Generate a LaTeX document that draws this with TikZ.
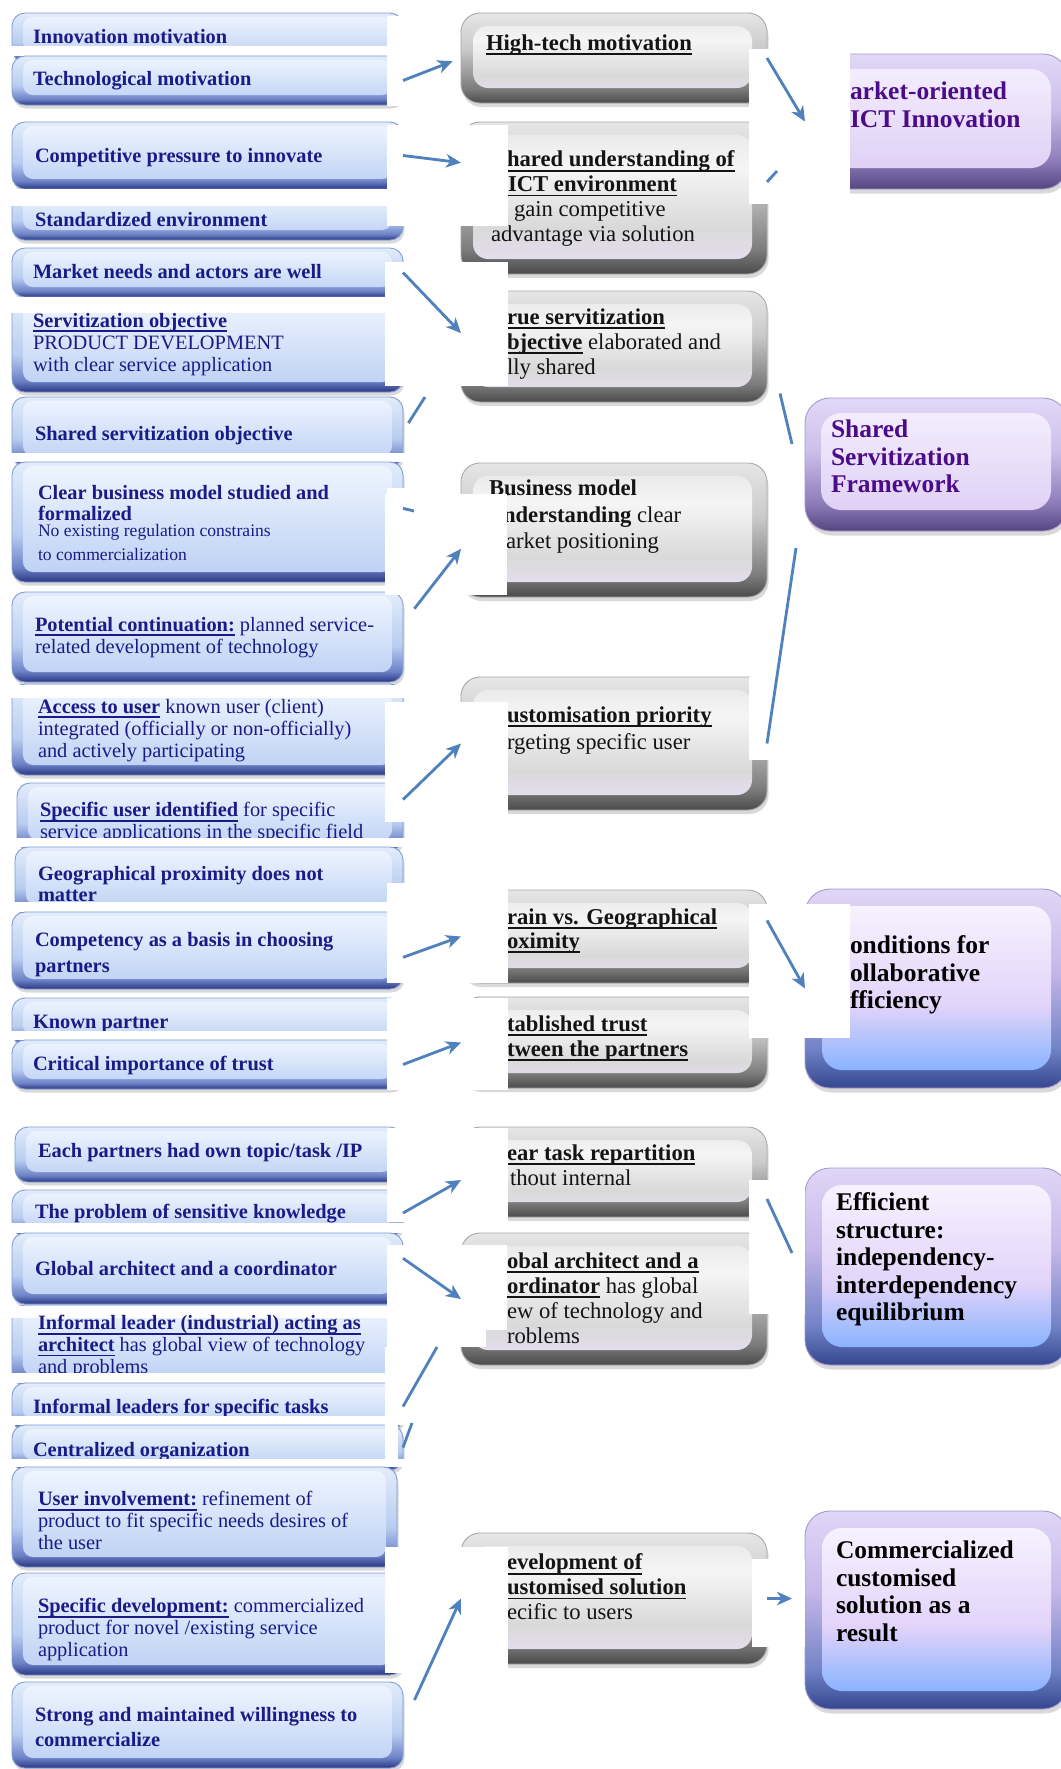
\documentclass[tikz,border=0pt]{standalone}
\usepackage{fontspec}
\setmainfont{Liberation Serif}
\usetikzlibrary{arrows.meta, fit, shadows}

\definecolor{lboxline}{HTML}{7F9BD3}
\definecolor{loutA}{HTML}{2A3683}
\definecolor{loutB}{HTML}{6C82C6}
\definecolor{loutC}{HTML}{B9CDF0}
\definecolor{loutD}{HTML}{E2ECFB}
\definecolor{linA}{HTML}{BACFF3}
\definecolor{linB}{HTML}{F0F6FF}
\definecolor{gboxline}{HTML}{A8A8A8}
\definecolor{goutA}{HTML}{4B4B4B}
\definecolor{goutB}{HTML}{7C7C7C}
\definecolor{goutC}{HTML}{CACACA}
\definecolor{goutD}{HTML}{E6E6E6}
\definecolor{ginA}{HTML}{D4C9E6}
\definecolor{ginB}{HTML}{E3DDEC}
\definecolor{ginC}{HTML}{D9D9D9}
\definecolor{ginD}{HTML}{F5F5F5}
\definecolor{ginE}{HTML}{E6E6E6}
\definecolor{pboxline}{HTML}{A896CF}
\definecolor{poutA}{HTML}{55457F}
\definecolor{poutB}{HTML}{8C7AB8}
\definecolor{poutC}{HTML}{CDBFEA}
\definecolor{poutD}{HTML}{E2D8F6}
\definecolor{pinA}{HTML}{DCCBF3}
\definecolor{pinB}{HTML}{F6F1FF}
\definecolor{qoutA}{HTML}{34478F}
\definecolor{qoutB}{HTML}{7283C6}
\definecolor{qoutC}{HTML}{C7B8EA}
\definecolor{qoutD}{HTML}{E0D6F6}
\definecolor{qinA}{HTML}{86B2FF}
\definecolor{qinB}{HTML}{E3D4FA}
\definecolor{qinC}{HTML}{FAF7FF}
\definecolor{navytext}{HTML}{1B1B87}
\definecolor{purpletext}{HTML}{4B0C8A}
\definecolor{mtextcol}{HTML}{141414}
\definecolor{arrowblue}{HTML}{4F81BD}

\pgfdeclareverticalshading{lout}{100bp}{color(0bp)=(loutA); color(25bp)=(loutA); color(31bp)=(loutB); color(45bp)=(loutC); color(75bp)=(loutD); color(100bp)=(loutD)}
\pgfdeclareverticalshading{lin}{100bp}{color(0bp)=(linA); color(25bp)=(linA); color(75bp)=(linB); color(100bp)=(linB)}
\pgfdeclareverticalshading{gout}{100bp}{color(0bp)=(goutA); color(25bp)=(goutA); color(33bp)=(goutB); color(55bp)=(goutC); color(75bp)=(goutD); color(100bp)=(goutD)}
\pgfdeclareverticalshading{gin}{100bp}{color(0bp)=(ginA); color(25bp)=(ginA); color(31bp)=(ginB); color(40bp)=(ginC); color(60bp)=(ginD); color(75bp)=(ginE); color(100bp)=(ginE)}
\pgfdeclareverticalshading{pout}{100bp}{color(0bp)=(poutA); color(25bp)=(poutA); color(35bp)=(poutB); color(55bp)=(poutC); color(75bp)=(poutD); color(100bp)=(poutD)}
\pgfdeclareverticalshading{pin}{100bp}{color(0bp)=(pinA); color(25bp)=(pinA); color(75bp)=(pinB); color(100bp)=(pinB)}
\pgfdeclareverticalshading{qout}{100bp}{color(0bp)=(qoutA); color(25bp)=(qoutA); color(35bp)=(qoutB); color(55bp)=(qoutC); color(75bp)=(qoutD); color(100bp)=(qoutD)}
\pgfdeclareverticalshading{qin}{100bp}{color(0bp)=(qinA); color(25bp)=(qinA); color(29bp)=(qinA); color(46bp)=(qinB); color(75bp)=(qinC); color(100bp)=(qinC)}

\newcommand{\undl}[1]{\sbox0{#1}\rlap{\usebox0}\rule[-2.6pt]{\wd0}{1.1pt}}

\tikzset{
  lbox/.style={draw=lboxline, line width=0.5pt, rounded corners=0.26cm, inner sep=0pt, outer sep=0pt,
    shade, shading=lout, drop shadow={shadow xshift=0.03cm, shadow yshift=-0.07cm, opacity=0.3},
    path picture={\shade[shading=lin, rounded corners=0.2cm]
      ([xshift=0.22cm,yshift=-0.08cm]path picture bounding box.north west) rectangle
      ([xshift=-0.22cm,yshift=0.2cm]path picture bounding box.south east);}},
  gbox/.style={draw=gboxline, line width=0.5pt, rounded corners=0.38cm, inner sep=0pt, outer sep=0pt,
    shade, shading=gout, drop shadow={shadow xshift=0.03cm, shadow yshift=-0.08cm, opacity=0.3},
    path picture={\shade[shading=gin, rounded corners=0.3cm]
      ([xshift=0.24cm,yshift=-0.26cm]path picture bounding box.north west) rectangle
      ([xshift=-0.3cm,yshift=0.3cm]path picture bounding box.south east);}},
  pbox/.style={draw=pboxline, line width=0.5pt, rounded corners=0.5cm, inner sep=0pt, outer sep=0pt,
    shade, shading=pout, drop shadow={shadow xshift=0.03cm, shadow yshift=-0.09cm, opacity=0.3},
    path picture={\shade[shading=pin, rounded corners=0.4cm]
      ([xshift=0.32cm,yshift=-0.3cm]path picture bounding box.north west) rectangle
      ([xshift=-0.34cm,yshift=0.42cm]path picture bounding box.south east);}},
  qbox/.style={draw=pboxline, line width=0.5pt, rounded corners=0.5cm, inner sep=0pt, outer sep=0pt,
    shade, shading=qout, drop shadow={shadow xshift=0.03cm, shadow yshift=-0.09cm, opacity=0.3},
    path picture={\shade[shading=qin, rounded corners=0.4cm]
      ([xshift=0.34cm,yshift=-0.34cm]path picture bounding box.north west) rectangle
      ([xshift=-0.34cm,yshift=0.36cm]path picture bounding box.south east);}},
  ltext/.style={anchor=north west, inner sep=0pt, outer sep=0pt, align=left, text=navytext,
    font=\fontsize{11.6}{12.5}\selectfont\bfseries, execute at begin node={\rule{0pt}{8.75pt}}},
  lsmall/.style={ltext, font=\fontsize{10}{13.66}\selectfont, execute at begin node={\rule{0pt}{9.56pt}}},
  mtext/.style={anchor=north west, inner sep=0pt, outer sep=0pt, align=left, text=mtextcol,
    font=\fontsize{12.9}{14.2}\selectfont\bfseries, execute at begin node={\rule{0pt}{9.94pt}}},
  rtext/.style={anchor=north west, inner sep=0pt, outer sep=0pt, align=left, text=black,
    font=\fontsize{14.5}{15.65}\selectfont\bfseries, execute at begin node={\rule{0pt}{10.96pt}}},
  ptext/.style={rtext, text=purpletext},
  patch/.style={fill=white, draw=none},
  conn/.style={draw=arrowblue, line width=1.6pt, -{Stealth[length=0.3cm, width=0.27cm, inset=0.09cm]}},
  link/.style={draw=arrowblue, line width=1.6pt},
}

\begin{document}
\begin{tikzpicture}[x=0.02cm, y=-0.02cm]
    \useasboundingbox (0,0) rectangle (1061,1769);

    \node[lbox, fit={(12,13) (403,62)}] (innov) {};
    \node[ltext] (innovT) at (33,28.6) {Innovation motivation};
    \fill[patch] (0,46) rectangle (405,56);
    \node[lbox, fit={(12,56) (403,105)}] (techmot) {};
    \node[ltext] (techmotT) at (33,70.6) {Technological motivation};
    \node[lbox, fit={(12,122) (403,189)}] (comppr) {};
    \node[ltext] (compprT) at (35,147.6) {Competitive pressure to innovate};
    \node[lbox, fit={(12,192) (403,240)}] (stdenv) {};
    \fill[patch] (0,189) rectangle (405,206);
    \node[ltext] (stdenvT) at (35,211.6) {Standardized environment};
    \node[lbox, fit={(12,248) (403,297)}] (mktneed) {};
    \node[ltext] (mktneedT) at (33,263.6) {Market needs and actors are well};
    \node[lbox, fit={(12,299) (403,392)}] (servobj) {};
    \fill[patch] (0,297) rectangle (405,313);
    \node[ltext] (servobjT) at (33,313.6) {\undl{Servitization objective}\\{\mdseries PRODUCT DEVELOPMENT}\\{\mdseries with clear service application}};
    \node[lbox, fit={(12,397) (403,466)}] (sharedobj) {};
    \node[ltext] (sharedobjT) at (35,425.6) {Shared servitization objective};
    \fill[patch] (0,453) rectangle (405,461.5);
    \node[lbox, fit={(12,462) (403,582)}] (bizmod) {};
    \node[ltext] (bizmodT) at (38,485.6) {Clear business model studied and\\[-0.5pt]formalized};
    \node[lsmall] (bizmodS) at (38,524) {No existing regulation constrains\\to commercialization};
    \node[lbox, fit={(12,592) (403,682)}] (potcont) {};
    \node[ltext] (potcontT) at (35,617.6) {\undl{Potential continuation:} {\mdseries planned service-}\\{\mdseries related development of technology}};
    \node[lbox, fit={(12,684) (403,775)}] (access) {};
    \fill[patch] (0,685) rectangle (405,698);
    \node[ltext] (accessT) at (38,699.6) {\undl{Access to user} {\mdseries known user (client)}\\{\mdseries integrated (officially or non-officially)}\\{\mdseries and actively participating}};
    \node[lbox, fit={(17,783) (403,850)}] (specuser) {};
    \node[ltext] (specuserT) at (40,802.6) {\undl{Specific user identified} {\mdseries for specific}\\{\mdseries service applications in the specific field}};
    \fill[patch] (0,838) rectangle (405,846.5);
    \node[lbox, fit={(15,847) (403,915)}] (geoprox) {};
    \node[ltext] (geoproxT) at (38,866.6) {Geographical proximity does not\\[-0.5pt]matter};
    \fill[patch] (0,902) rectangle (405,911.5);
    \node[lbox, fit={(12,912) (403,989)}] (compet) {};
    \node[ltext] (competT) at (35,932.6) {Competency as a basis in choosing\\[2.3pt]partners};
    \node[lbox, fit={(12,998) (403,1045)}] (knownp) {};
    \node[ltext] (knownpT) at (33,1013.6) {Known partner};
    \fill[patch] (0,1031) rectangle (405,1039.5);
    \node[lbox, fit={(12,1040) (403,1089)}] (crittrust) {};
    \node[ltext] (crittrustT) at (33,1055.6) {Critical importance of trust};
    \node[lbox, fit={(15,1127) (403,1182)}] (eachp) {};
    \node[ltext] (eachpT) at (38,1142.6) {Each partners had own topic/task /IP};
    \node[lbox, fit={(12,1190) (403,1236)}] (sensknow) {};
    \node[ltext] (sensknowT) at (35,1203.6) {The problem of sensitive knowledge};
    \fill[patch] (0,1223) rectangle (405,1232.5);
    \node[lbox, fit={(12,1233) (403,1304)}] (globarch) {};
    \node[ltext] (globarchT) at (35,1260.6) {Global architect and a coordinator};
    \node[lbox, fit={(12,1305) (403,1385)}] (infleader) {};
    \fill[patch] (0,1306) rectangle (405,1318);
    \node[ltext] (infleaderT) at (38,1315.6) {\undl{Informal leader (industrial) acting as}\\\undl{architect} {\mdseries has global view of technology}\\{\mdseries and problems}};
    \fill[patch] (0,1373) rectangle (405,1382.5);
    \node[lbox, fit={(12,1383) (403,1430)}] (infleaders) {};
    \node[ltext] (infleadersT) at (33,1398.6) {Informal leaders for specific tasks};
    \fill[patch] (0,1416) rectangle (405,1424.5);
    \node[lbox, fit={(12,1425) (403,1470)}] (central) {};
    \node[ltext] (centralT) at (33,1441.6) {Centralized organization};
    \fill[patch] (0,1459) rectangle (405,1466.5);
    \node[lbox, fit={(12,1467) (397,1567)}] (userinv) {};
    \node[ltext] (userinvT) at (38,1491.6) {\undl{User involvement:} {\mdseries refinement of}\\{\mdseries product to fit specific needs desires of}\\{\mdseries the user}};
    \node[lbox, fit={(12,1573) (403,1675)}] (specdev) {};
    \node[ltext] (specdevT) at (38,1598.6) {\undl{Specific development:} {\mdseries commercialized}\\{\mdseries product for novel /existing service}\\{\mdseries application}};
    \node[lbox, fit={(12,1682) (403,1768)}] (strong) {};
    \node[ltext] (strongT) at (35,1707.6) {Strong and maintained willingness to\\[1.7pt]commercialize};

    \node[gbox, fit={(461,13) (767,103)}] (hightech) {};
    \node[mtext] (hightechT) at (486,33) {\undl{High-tech motivation}};
    \node[gbox, fit={(461,122) (767,274)}] (sharedU) {};
    \node[mtext] (sharedUT) at (491,151) {\hspace*{0.32cm}\undl{hared understanding of}\\\hspace*{0.34cm}\undl{ICT environment}\\{\mdseries\hspace*{0.46cm}gain competitive}\\{\mdseries advantage via solution}};
    \node[gbox, fit={(461,291) (767,402)}] (trueserv) {};
    \node[mtext] (trueservT) at (507,309) {\undl{rue servitization}\\\undl{bjective} {\mdseries elaborated and}\\{\mdseries lly shared}};
    \node[gbox, fit={(461,463) (767,597)}] (bizmodM) {};
    \node[mtext] (bizmodMT) at (489,480) {Business model\\[0.8pt]\hspace*{0.28cm}nderstanding {\mdseries clear}\\[0.8pt]{\mdseries\hspace*{0.34cm}arket positioning}};
    \node[gbox, fit={(461,677) (767,810)}] (custom) {};
    \node[mtext] (customT) at (507,707) {\undl{ustomisation priority}\\[1.2pt]{\mdseries rgeting specific user}};
    \node[gbox, fit={(461,890) (767,983)}] (brain) {};
    \node[mtext] (brainT) at (507,909) {\undl{rain vs. Geographical}\\[-0.8pt]\undl{oximity}};
    \node[gbox, fit={(461,997) (767,1088)}] (trust) {};
    \node[mtext] (trustT) at (507,1016) {\undl{tablished trust}\\\undl{tween the partners}};
    \node[gbox, fit={(461,1127) (767,1217)}] (task) {};
    \node[mtext] (taskT) at (507,1145) {\undl{ear task repartition}\\{\mdseries\hspace*{0.06cm}thout internal}};
    \node[gbox, fit={(461,1233) (767,1365)}] (globarchM) {};
    \node[mtext] (globarchMT) at (507,1253) {\undl{obal architect and a}\\\undl{ordinator} {\mdseries has global}\\{\mdseries ew of technology and}\\{\mdseries roblems}};
    \node[gbox, fit={(461,1533) (767,1664)}] (devsol) {};
    \node[mtext] (devsolT) at (507,1554) {\undl{evelopment of}\\\undl{ustomised solution}\\{\mdseries ecific to users}};

    \node[pbox, fit={(805,54) (1068,189)}] (market) {};
    \node[ptext] (marketT) at (850,82) {arket-oriented\\ICT Innovation};
    \node[pbox, fit={(805,398) (1068,531)}] (sharedSF) {};
    \node[ptext] (sharedSFT) at (831,420) {Shared\\Servitization\\Framework};
    \node[qbox, fit={(805,889) (1068,1088)}] (cond) {};
    \node[rtext] (condT) at (850,936) {onditions for\\ollaborative\\fficiency};
    \node[qbox, fit={(805,1168) (1068,1365)}] (effic) {};
    \node[rtext] (efficT) at (836,1193) {Efficient\\structure:\\independency-\\interdependency\\equilibrium};
    \node[qbox, fit={(805,1511) (1068,1709)}] (commer) {};
    \node[rtext] (commerT) at (836,1541) {Commercialized\\customised\\solution as a\\result};

    \fill[patch] (387,16) rectangle (460,106);
    \fill[patch] (387,125) rectangle (508,226);
    \fill[patch] (385,262) rectangle (508,386);
    \fill[patch] (387,488) rectangle (460,494);
    \fill[patch] (385,494) rectangle (507,595);
    \fill[patch] (385,702) rectangle (508,822);
    \fill[patch] (387,883) rectangle (508,983);
    \fill[patch] (387,998) rectangle (508,1090);
    \fill[patch] (387,1128) rectangle (508,1222);
    \fill[patch] (387,1245) rectangle (507,1330);
    \fill[patch] (387,1330) rectangle (486,1347);
    \fill[patch] (385,1347) rectangle (455,1423);
    \fill[patch] (385,1423) rectangle (398,1462);
    \fill[patch] (385,1547) rectangle (508,1673);
    \fill[patch] (749,49) rectangle (850,204);
    \fill[patch] (749,677) rectangle (772,760);
    \fill[patch] (749,904) rectangle (850,1038);
    \fill[patch] (749,1180) rectangle (805,1314);
    \fill[patch] (752,1559) rectangle (805,1647);

    \coordinate (fragA) at (425,397);
    \coordinate (fragB) at (414,511);
    \coordinate (fragC) at (437,1347);
    \coordinate (fragD) at (412,1423);
    \coordinate (fragE) at (777,171);
    \coordinate (fragF) at (792,444);
    \coordinate (fragG) at (796,548);
    \coordinate (fragH) at (792,1253);

    \draw[conn, shorten >=0.18cm] (techmot.east) -- (hightech.west);
    \draw[conn] (comppr.east) -- (sharedU.167.5);
    \draw[conn] (mktneed.east) -- (trueserv.175);
    \draw[link, shorten <=0.2cm] (sharedobj.east) -- (fragA);
    \draw[link] (bizmod.4) -- (fragB);
    \draw[conn, shorten <=0.37cm] (potcont.4) -- (bizmodM.187);
    \draw[conn] (specuser.5) -- (custom.west);
    \draw[conn] (compet.-2) -- (brain.west);
    \draw[conn] (crittrust.east) -- (trust.west);
    \draw[conn] (sensknow.east) -- (task.183);
    \draw[conn] (globarch.3) -- (globarchM.west);
    \draw[link] (infleaders.east) -- (fragC);
    \draw[link] (central.east) -- (fragD);
    \draw[conn, shorten <=0.55cm] (strong.east) -- (devsol.west);
    \draw[conn] (hightech.east) -- (market.west);
    \draw[link] (sharedU.6) -- (fragE);
    \draw[link, shorten <=1.13cm] (trueserv.3) -- (fragF);
    \draw[link] (custom.east) -- (fragG);
    \draw[conn] (brain.6) -- (cond.west);
    \draw[link] (task.-10) -- (fragH);
    \draw[conn, shorten >=0.26cm] (devsol.east) -- (commer.175);
\end{tikzpicture}
\end{document}
